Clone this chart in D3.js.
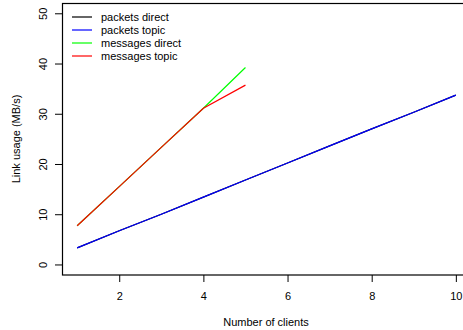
<!DOCTYPE html>
<head>
  <meta charset="utf-8">
  <script src="https://d3js.org/d3.v7.min.js"></script>
  <style>
    body { margin:0; background:#fff; }
    text { font-family: "Liberation Sans", Arial, sans-serif; font-size: 11px; fill: #000; }
    .line { fill: none; stroke-width: 1.2px; }
  </style>
</head>
<body>
<script>
  // data
  var clients = [1, 2, 3, 4, 5, 6, 7, 8, 9, 10];
  var packetsDirect = [3.4, 6.8, 10.1, 13.5, 16.9, 20.3, 23.7, 27.1, 30.4, 33.8];
  var packetsTopic = [3.4, 6.8, 10.1, 13.5, 16.9, 20.3, 23.7, 27.1, 30.4, 33.8];
  var msgClients = [1, 2, 3, 4, 5];
  var messagesDirect = [7.8, 15.6, 23.4, 31.2, 39.3];
  var messagesTopic = [7.8, 15.6, 23.4, 31.2, 35.8];
  var seriesNames = ["packets direct", "packets topic", "messages direct", "messages topic"];
  var seriesColors = ["#000000", "#0000ff", "#00ff00", "#ff0000"];
  var xTicks = [2, 4, 6, 8, 10];
  var yTicks = [0, 10, 20, 30, 40, 50];

  var W = 463, H = 330;
  var svg = d3.select("body").append("svg")
    .attr("width", W)
    .attr("height", H);

  // R style 4% padding on the ranges
  var x = d3.scaleLinear().domain([0.64, 10.36]).range([62, 471]);
  var y = d3.scaleLinear().domain([-2, 52]).range([275, 3.75]);

  var series = [
    { x: clients, v: packetsDirect },
    { x: clients, v: packetsTopic },
    { x: msgClients, v: messagesDirect },
    { x: msgClients, v: messagesTopic }
  ];

  var line = d3.line()
    .x(function(d) { return x(d[0]); })
    .y(function(d) { return y(d[1]); });

  svg.selectAll(".line").data(series).enter()
    .append("path")
    .attr("class", "line")
    .attr("stroke", function(d, i) { return seriesColors[i]; })
    .attr("d", function(d) {
      return line(d.x.map(function(c, j) { return [c, d.v[j]]; }));
    });

  // box
  svg.append("rect")
    .attr("x", 62.5).attr("y", 3.5)
    .attr("width", 471 - 62).attr("height", 275 - 3.5)
    .attr("fill", "none").attr("stroke", "#000").attr("stroke-width", 1.2);

  var xAxis = d3.axisBottom(x).tickValues(xTicks).tickSize(7).tickPadding(10).tickFormat(d3.format("d"));
  var gx = svg.append("g").attr("transform", "translate(0,275)").call(xAxis);
  gx.select(".domain").remove();
  gx.selectAll("text").style("font-size", "11px").style("font-family", "Liberation Sans, Arial, sans-serif");

  var yAxis = d3.axisLeft(y).tickValues(yTicks).tickSize(7).tickFormat(d3.format("d"));
  var gy = svg.append("g").attr("transform", "translate(62,0)").call(yAxis);
  gy.select(".domain").remove();
  gy.selectAll("text")
    .attr("x", null).attr("dy", null)
    .attr("text-anchor", "middle")
    .attr("transform", function(d) { return "translate(-18.5," + y(d) + ") rotate(-90)"; })
    .attr("y", 0)
    .attr("dy", "0.35em")
    .style("font-size", "11px").style("font-family", "Liberation Sans, Arial, sans-serif");
  // rotated labels: move them off the tick position
  gy.selectAll(".tick").attr("transform", "translate(0,0)");
  gy.selectAll(".tick line").attr("transform", function(d) { return "translate(0," + y(d) + ")"; });

  svg.append("text")
    .attr("x", 266).attr("y", 326)
    .attr("text-anchor", "middle")
    .text("Number of clients");

  svg.append("text")
    .attr("transform", "translate(20,139) rotate(-90)")
    .attr("text-anchor", "middle")
    .text("Link usage (MB/s)");

  // legend
  var legend = svg.selectAll(".legend").data(seriesNames).enter()
    .append("g").attr("class", "legend")
    .attr("transform", function(d, i) { return "translate(72," + (17 + i * 13) + ")"; });
  legend.append("line")
    .attr("x1", 0).attr("x2", 20)
    .attr("stroke", function(d, i) { return seriesColors[i]; })
    .attr("stroke-width", 1.2);
  legend.append("text")
    .attr("x", 29).attr("dy", "0.35em")
    .text(function(d) { return d; });
</script>
</body>
